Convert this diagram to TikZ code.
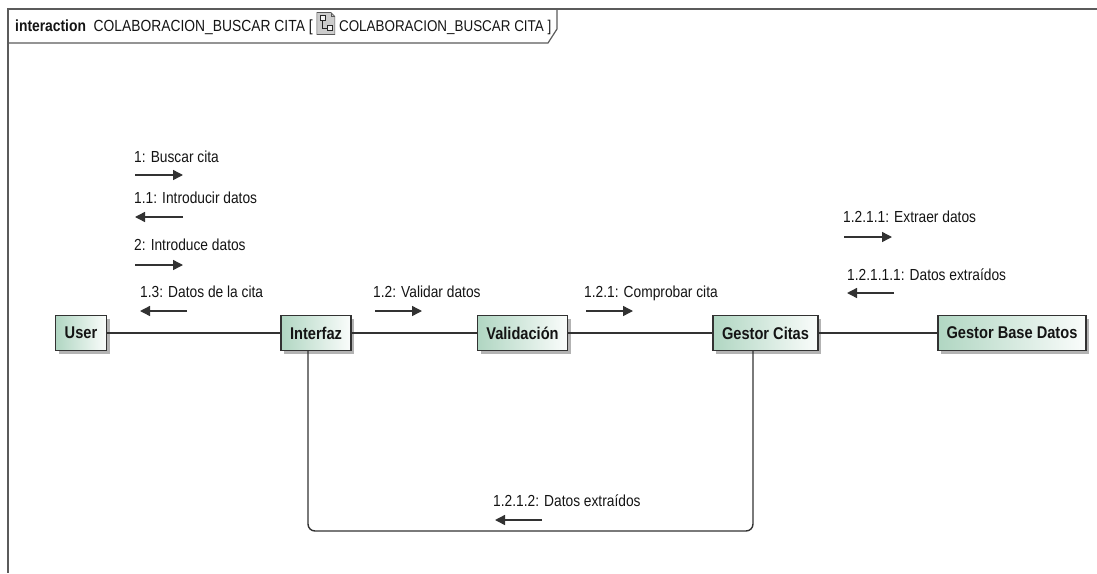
\documentclass[tikz,border=0pt]{standalone}
\usepackage{fontspec}
\setmainfont{Liberation Sans}[FakeStretch=0.86]
\usetikzlibrary{arrows.meta,shadows,calc}
\definecolor{boxgreen}{RGB}{176,214,194}
\definecolor{linecol}{RGB}{50,50,50}
\definecolor{txtcol}{RGB}{20,20,20}
\begin{document}
\begin{tikzpicture}[x=1pt,y=-1pt,
  lifebox/.style={draw=linecol, line width=1.3pt, left color=boxgreen, right color=white!94!boxgreen,
    drop shadow={shadow xshift=3pt, shadow yshift=-3pt, fill=gray, opacity=0.6},
    minimum height=35pt, inner sep=0pt, text=txtcol,
    font=\fontsize{17}{20}\selectfont\bfseries},
  msg/.style={anchor=base west, inner sep=0pt, text=txtcol, font=\fontsize{16}{19}\selectfont},
  hdr/.style={anchor=base west, inner sep=0pt, text=txtcol, font=\fontsize{15.6}{19}\selectfont},
  msgarrow/.style={draw=linecol, line width=1.4pt, -{Triangle[length=10pt,width=10pt]}},
  link/.style={draw=linecol, line width=1.4pt},
  frameline/.style={draw=linecol!80, line width=1.2pt}
]
\useasboundingbox (0,0) rectangle (1097,573);
% frame
\coordinate (ftl) at (8,9);
\coordinate (ftr) at (1097,9);
\coordinate (fbl) at (8,573);
\draw[frameline] (ftr) -- (ftl) -- (fbl);
\coordinate (tabr) at (557,9);
\coordinate (tabn) at (557,29);
\coordinate (tabb) at (548,43);
\coordinate (tabl) at (8,43);
\draw[frameline] (tabr) -- (tabn) -- (tabb) -- (tabl);
% header text
\node[hdr, font=\fontsize{16.1}{19}\selectfont] (h1) at (15,31) {\textbf{interaction}\ \ COLABORACION\_BUSCAR CITA [};
\coordinate (ic) at ($(h1.east |- 0,23.5)+(13,0)$);
\draw[draw=gray!70!black, fill=gray!40, line width=0.7pt]
  ($(ic)+(-9,-11)$) -- ($(ic)+(5,-11)$) -- ($(ic)+(9,-7)$) -- ($(ic)+(9,11)$) -- ($(ic)+(-9,11)$) -- cycle;
\draw[draw=gray!70!black, line width=0.6pt] ($(ic)+(5,-11)$) -- ($(ic)+(5,-7)$) -- ($(ic)+(9,-7)$);
\draw[draw=gray!30!black, fill=gray!10, line width=0.6pt] ($(ic)+(-6,-8)$) rectangle ($(ic)+(-1,-3)$);
\draw[draw=gray!30!black, fill=gray!10, line width=0.6pt] ($(ic)+(1,2)$) rectangle ($(ic)+(6,7)$);
\draw[draw=gray!30!black, line width=0.6pt] ($(ic)+(-3.5,-3)$) |- ($(ic)+(1,4.5)$);
\node[hdr] (h2) at ($(ic)+(13,7.5)$) {COLABORACION\_BUSCAR CITA ]};
% lifelines
\node[lifebox, minimum width=51pt] (U) at (81,333) {User};
\node[lifebox, minimum width=70pt] (I) at (316,333) {Interfaz};
\node[lifebox, minimum width=90pt] (V) at (522.5,333) {Validación};
\node[lifebox, minimum width=105pt] (GC) at (765.5,333) {Gestor Citas};
\node[lifebox, minimum width=148pt] (GB) at (1012,333) {Gestor Base Datos};
\draw[link] (U.east) -- (I.west);
\draw[link] (I.east) -- (V.west);
\draw[link] (V.east) -- (GC.west);
\draw[link] (GC.east) -- (GB.west);
\coordinate (ia) at ([xshift=-8pt]I.south);
\coordinate (ga) at ([xshift=-12.5pt]GC.south);
\coordinate (bot) at (0,531);
\draw[link, rounded corners=7pt] (ia) |- (bot -| ga) -- (ga);
% messages
\node[msg] (m1) at (134,162) {1: Buscar cita};
\draw[msgarrow] (135,175) -- (183,175);
\node[msg] (m11) at (134,203) {1.1: Introducir datos};
\draw[msgarrow] (183,217) -- (135,217);
\node[msg] (m2) at (134,250) {2: Introduce datos};
\draw[msgarrow] (135,265) -- (183,265);
\node[msg] (m13) at (140,297) {1.3: Datos de la cita};
\draw[msgarrow] (187,311) -- (140,311);
\node[msg] (m12) at (373,297) {1.2: Validar datos};
\draw[msgarrow] (375,311) -- (422,311);
\node[msg] (m121) at (584,297) {1.2.1: Comprobar cita};
\draw[msgarrow] (586,311) -- (633,311);
\node[msg] (m1211) at (843,222) {1.2.1.1: Extraer datos};
\draw[msgarrow] (844,237) -- (892,237);
\node[msg] (m12111) at (847,280) {1.2.1.1.1: Datos extraídos};
\draw[msgarrow] (894,293) -- (847,293);
\node[msg] (m1212) at (493,506) {1.2.1.2: Datos extraídos};
\draw[msgarrow] (542,520) -- (495,520);
\end{tikzpicture}
\end{document}
